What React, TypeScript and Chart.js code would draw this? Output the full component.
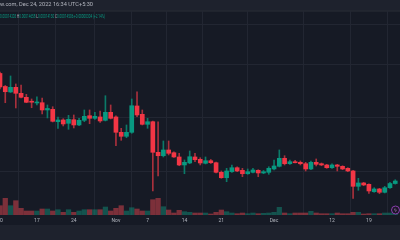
import { useEffect, useRef } from "react";
import { Chart, registerables } from "chart.js";

Chart.register(...registerables);

// Daily candles, Oct 10 – Dec 24, 2022. Prices in units of 1e-6.
const OPEN = [
  274.1, 258.5, 251.9, 257.5, 250.3, 245.5, 240.1, 238.7, 239.0, 230.3,
  231.1, 216.2, 218.3, 214.3, 218.6, 212.3, 217.9, 223.4, 220.3, 221.9,
  217.9, 227.5, 221.9, 203.5, 198.7, 203.5, 235.1, 225.1, 213.1, 216.2,
  179.5, 175.4, 182.3, 179.0, 173.9, 164.3, 166.7, 173.9, 171.1, 166.3,
  169.4, 167.0, 155.5, 149.0, 156.2, 161.0, 157.9, 153.8, 155.5, 157.9,
  154.7, 155.5, 159.5, 162.7, 172.3, 165.8, 168.2, 167.5, 165.8, 159.5,
  167.5, 165.8, 164.3, 161.0, 164.3, 162.7, 160.3, 157.1, 138.7, 142.7,
  141.1, 132.2, 135.5, 131.5, 137.0, 142.03,
];
const HIGH = [
  275.9, 259.7, 271.1, 261.5, 260.3, 249.1, 243.5, 246.2, 244.7, 236.3,
  234.2, 221.9, 219.8, 223.9, 224.3, 220.3, 230.3, 230.3, 227.5, 229.1,
  247.4, 236.3, 223.4, 208.3, 212.3, 243.5, 252.2, 230.3, 220.3, 217.1,
  216.2, 193.1, 193.1, 180.2, 178.3, 170.3, 181.1, 178.3, 173.0, 173.9,
  170.9, 167.9, 157.1, 160.3, 164.3, 162.2, 160.3, 159.5, 160.3, 158.6,
  157.7, 162.2, 170.3, 182.3, 175.4, 170.3, 169.9, 169.1, 167.5, 169.1,
  171.5, 166.7, 165.1, 165.8, 165.1, 163.4, 161.0, 157.9, 148.3, 143.5,
  141.8, 137.0, 136.3, 138.7, 143.5, 146.58,
];
const LOW = [
  255.5, 239.0, 251.3, 232.7, 244.7, 239.0, 233.0, 236.3, 225.5, 220.7,
  215.9, 208.3, 211.1, 207.1, 208.7, 211.4, 216.2, 213.8, 219.1, 215.5,
  217.1, 219.5, 187.4, 193.9, 197.0, 202.3, 222.2, 212.3, 208.3, 133.1,
  151.1, 173.9, 176.3, 173.3, 163.4, 153.8, 165.8, 168.2, 164.3, 165.5,
  166.1, 154.7, 148.3, 144.2, 155.5, 156.2, 150.2, 153.1, 154.7, 150.2,
  153.8, 153.1, 158.3, 161.9, 164.3, 165.1, 166.7, 164.3, 157.1, 158.6,
  163.1, 163.4, 160.3, 160.3, 157.1, 158.6, 156.2, 124.3, 133.9, 139.4,
  130.3, 131.5, 129.8, 130.7, 136.3, 141.30,
];
const CLOSE = [
  257.9, 252.2, 257.5, 250.3, 245.5, 239.5, 239.6, 239.9, 230.3, 232.1,
  216.7, 218.3, 213.5, 219.1, 212.3, 217.9, 222.7, 220.3, 222.7, 217.1,
  227.5, 220.3, 203.5, 198.7, 203.5, 235.4, 224.3, 213.1, 216.2, 179.5,
  175.4, 182.3, 178.3, 173.9, 164.3, 167.5, 174.2, 170.6, 166.7, 169.4,
  167.0, 155.5, 149.0, 157.1, 161.0, 157.1, 153.8, 156.2, 158.3, 154.7,
  156.2, 160.3, 163.1, 172.3, 165.8, 168.2, 167.0, 165.8, 159.5, 167.5,
  165.1, 164.3, 161.0, 164.3, 162.7, 159.5, 157.1, 138.7, 142.7, 140.3,
  133.1, 135.5, 131.5, 137.0, 142.02, 145.06,
];
// Volume in billions
const VOLUME = [
  9.3, 16.7, 9.3, 14.3, 6.7, 4, 4, 4, 6, 6,
  4, 5.3, 2.7, 5.3, 2.7, 4, 5.3, 5.3, 5.3, 5.3,
  8, 4, 6.7, 9.3, 4, 7.3, 6, 4, 4, 15.3,
  16.7, 8.3, 5, 2, 4.7, 3.3, 2.7, 2, 2, 2,
  1, 2.7, 5, 3.3, 2, 1.3, 2, 1.3, 2, 1.3,
  1.7, 2, 2.7, 7.7, 2, 1.3, 2, 2, 2, 3.7,
  2, 1.3, 1.3, 1.3, 2, 1.3, 1.3, 2.7, 2.7, 1,
  1.3, 1.3, 1.3, 2, 2, 1.3,
];
const TICK_INDEX = [0, 7, 14, 22, 28, 35, 42, 52, 63, 70];
const TICK_LABELS = ["10", "17", "24", "Nov", "7", "14", "21", "Dec", "12", "19"];
const GRID_PRICES = [332.3, 284.3, 220.7, 155.9];
const TITLE = "w.com, Dec 24, 2022 16:34 UTC+5:30";

const BG = "#161a25";
const PANEL = "#1e222d";
const GRID = "#222632";
const GREEN = "#089981";
const RED = "#f23645";
const GREEN_WICK = "#0b7a68";
const RED_WICK = "#a8303c";
const GREEN_VOL = "rgba(18,140,120,0.5)";
const RED_VOL = "rgba(225,70,80,0.5)";
const TEXT = "#b2b5be";
const FONT = "Roboto, 'Noto Sans', sans-serif";

const fmt = (v: number) => (v * 1e-6).toFixed(8);

const decor = {
  id: "decor",
  beforeDraw(chart: any) {
    const { ctx, width, height } = chart;
    ctx.save();
    ctx.fillStyle = BG;
    ctx.fillRect(0, 0, width, height);
    ctx.fillStyle = PANEL;
    ctx.fillRect(0, 0, width, 10.5);
    ctx.fillRect(0, 225, width, height - 225);
    ctx.fillStyle = "#2a2e39";
    ctx.fillRect(0, 10.5, width, 1);
    ctx.restore();
  },
  afterDraw(chart: any) {
    const { ctx } = chart;
    ctx.save();
    ctx.textBaseline = "middle";
    // title line
    ctx.font = `5px ${FONT}`;
    const tw = ctx.measureText(TITLE).width;
    ctx.save();
    ctx.translate(0, 5.2);
    ctx.scale(93 / tw, 1);
    ctx.fillStyle = TEXT;
    ctx.fillText(TITLE, 0, 0);
    ctx.restore();
    // OHLC line
    const n = OPEN.length - 1;
    const chg = CLOSE[n] - CLOSE[n - 1];
    const pct = (chg / CLOSE[n - 1]) * 100;
    const col = CLOSE[n] >= OPEN[n] ? GREEN : RED;
    const segs: [string, string][] = [
      [fmt(OPEN[n]), col],
      [" H", TEXT],
      [fmt(HIGH[n]), col],
      [" L", TEXT],
      [fmt(LOW[n]), col],
      [" C", TEXT],
      [fmt(CLOSE[n]), col],
      [` ${chg >= 0 ? "+" : ""}${fmt(chg)} (${chg >= 0 ? "+" : ""}${pct.toFixed(2)}%)`, col],
    ];
    ctx.font = `5px ${FONT}`;
    const total = segs.reduce((s, [t]) => s + ctx.measureText(t).width, 0);
    ctx.save();
    ctx.translate(0, 16.7);
    ctx.scale(105 / total, 1);
    let x = 0;
    for (const [t, c] of segs) {
      ctx.fillStyle = c;
      ctx.fillText(t, x, 0);
      x += ctx.measureText(t).width;
    }
    ctx.restore();
    // logo
    ctx.beginPath();
    ctx.arc(395.5, 210, 4, 0, Math.PI * 2);
    ctx.fillStyle = "#1b1626";
    ctx.fill();
    ctx.lineWidth = 1;
    ctx.strokeStyle = "#8a3fae";
    ctx.stroke();
    ctx.font = `5px 'DejaVu Sans'`;
    ctx.textAlign = "center";
    ctx.fillStyle = "#b78bd0";
    ctx.fillText("ϟ", 395.5, 210.3);
    ctx.restore();
  },
};

export default function App() {
  const ref = useRef<HTMLCanvasElement>(null);
  useEffect(() => {
    document.body.style.margin = "0";
    const up = CLOSE.map((c, i) => c >= OPEN[i]);
    const candleColor = up.map((u) => (u ? GREEN : RED));
    const wickColor = up.map((u) => (u ? GREEN_WICK : RED_WICK));
    const volColor = up.map((u) => (u ? GREEN_VOL : RED_VOL));
    const chart = new Chart(ref.current as HTMLCanvasElement, {
      type: "bar",
      data: {
        datasets: [
          {
            label: "Body",
            data: OPEN.map((o, i) => ({ x: i, y: [o, CLOSE[i]] })) as any,
            backgroundColor: candleColor,
            barThickness: 4,
            minBarLength: 1,
            grouped: false,
            yAxisID: "y",
            order: 1,
          } as any,
          {
            label: "Wick",
            data: LOW.map((l, i) => ({ x: i, y: [l, HIGH[i]] })) as any,
            backgroundColor: wickColor,
            barThickness: 1,
            grouped: false,
            yAxisID: "y",
            order: 2,
          } as any,
          {
            label: "Volume",
            data: VOLUME.map((v, i) => ({ x: i, y: v })) as any,
            backgroundColor: volColor,
            barThickness: 4.6,
            grouped: false,
            yAxisID: "yv",
            order: 3,
          } as any,
        ],
      },
      options: {
        animation: false,
        responsive: false,
        devicePixelRatio: 1,
        layout: { padding: { top: 11, bottom: 15, left: 0, right: 0 } },
        plugins: { legend: { display: false }, tooltip: { enabled: false } },
        scales: {
          x: {
            type: "linear",
            min: 0,
            max: 75.9,
            offset: false,
            border: { display: false },
            grid: { color: GRID, drawTicks: false, tickLength: 0 },
            ticks: {
              color: TEXT,
              font: { size: 5, family: FONT },
              padding: 2.5,
              maxRotation: 0,
              autoSkip: false,
              callback: (v: any) => {
                const k = TICK_INDEX.indexOf(Number(v));
                return k >= 0 ? TICK_LABELS[k] : "";
              },
            },
            afterBuildTicks: (s: any) => {
              s.ticks = TICK_INDEX.map((v) => ({ value: v }));
            },
            afterFit: (s: any) => {
              s.height = 10;
              s.paddingLeft = 0;
              s.paddingRight = 0;
            },
          },
          y: {
            type: "linear",
            position: "right",
            min: 104.26,
            max: 349.06,
            border: { display: false },
            grid: { color: GRID, drawTicks: false, tickLength: 0 },
            ticks: { display: false },
            afterBuildTicks: (s: any) => {
              s.ticks = GRID_PRICES.map((v) => ({ value: v }));
            },
            afterFit: (s: any) => {
              s.width = 0;
            },
          },
          yv: {
            type: "linear",
            display: false,
            min: 0,
            max: 204,
          },
        },
      } as any,
      plugins: [decor],
    });
    return () => chart.destroy();
  }, []);
  return (
    <div style={{ position: "fixed", left: 0, top: 0, width: 400, height: 240 }}>
      <canvas ref={ref} width={400} height={240} style={{ display: "block" }} />
    </div>
  );
}
